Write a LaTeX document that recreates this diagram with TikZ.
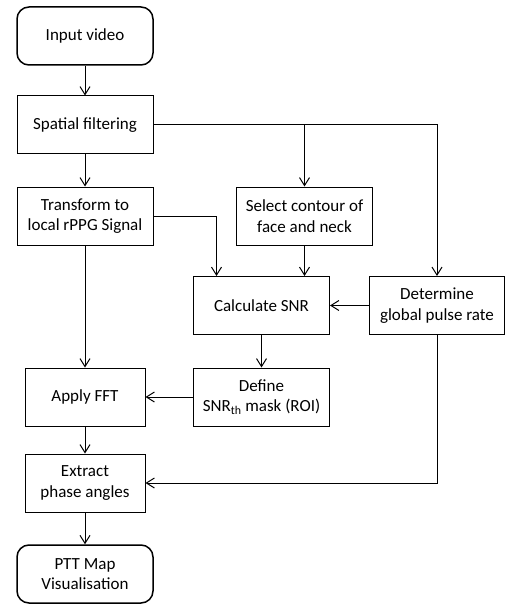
\documentclass[tikz,border=0pt]{standalone}
\usepackage{fontspec}
\setmainfont{Carlito}
\usetikzlibrary{arrows.meta}
\begin{document}
\begin{tikzpicture}[x=1pt,y=-1pt,
  every node/.style={font=\fontsize{17}{20.5}\selectfont, align=center, inner sep=0pt},
  box/.style={draw, line width=1pt, minimum width=136pt, minimum height=58pt},
  sbox/.style={draw, line width=1pt, minimum width=120pt, minimum height=58pt},
  term/.style={draw, line width=1.5pt, rounded corners=12pt, minimum width=136pt, minimum height=58pt},
  conn/.style={line width=1pt, -{Straight Barb[length=8pt,width=10pt]}}]
\useasboundingbox (0,0) rectangle (506,604);
\node[term] (in) at (85,36) {Input video};
\node[box] (sf) at (85,125) {Spatial filtering};
\node[box] (tr) at (85,216) {Transform to\\local rPPG Signal};
\node[box] (sc) at (304.5,216) {Select contour of\\face and neck};
\node[box] (cs) at (261.5,305.5) {Calculate SNR};
\node[box, minimum width=135pt] (dg) at (437,305.5) {Determine\\global pulse rate};
\node[sbox] (fft) at (85,397) {Apply FFT};
\node[box] (def) at (261.5,397) {Define\\SNR\textsubscript{th} mask (ROI)};
\node[sbox] (ex) at (85,483) {Extract\\phase angles};
\node[term] (ptt) at (85,574) {PTT Map\\Visualisation};
\draw[conn] (in) -- (sf);
\draw[conn] (sf) -| (sc);
\draw[conn] (sf) -| (dg);
\draw[conn] (sf) -- (tr);
\draw[conn] (tr.east) -| ([xshift=-45pt]cs.north);
\draw[conn] (sc.south) -- (sc.south |- cs.north);
\draw[conn] (dg) -- (cs);
\draw[conn] (tr) -- (fft);
\draw[conn] (cs) -- (def);
\draw[conn] (def) -- (fft);
\draw[conn] (fft) -- (ex);
\draw[conn] (dg) |- (ex);
\draw[conn] (ex) -- (ptt);
\end{tikzpicture}
\end{document}
